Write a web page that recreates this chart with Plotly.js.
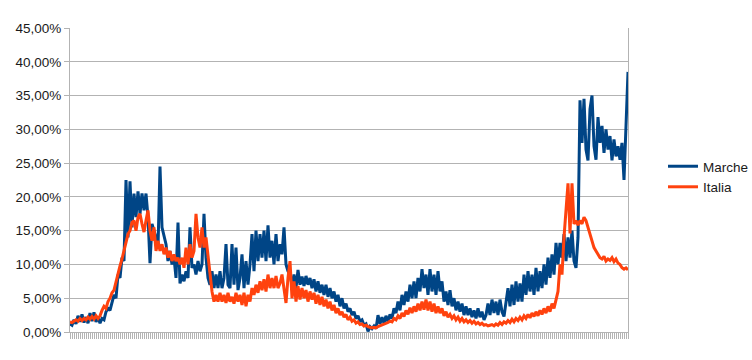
<!DOCTYPE html>
<html>
<head>
<meta charset="utf-8">
<script src="https://cdn.plot.ly/plotly-3.0.1.min.js"></script>
<style>html,body{margin:0;padding:0;background:#fff;}#chart{width:752px;height:360px;}</style>
</head>
<body>
<div id="chart"></div>
<script>
// Daily positivity rate (%)
var marche = [
1.2,1.0,1.8,1.2,2.4,1.5,2.6,1.4,2.2,1.3,
2.8,1.6,2.9,1.5,2.2,1.3,2.0,1.8,3.0,3.5,
3.2,4.5,5.5,5.0,8.5,8.0,11.0,10.5,22.5,14.0,
22.3,15.5,20.5,17.0,20.8,17.5,20.5,18.0,20.5,17.0,
10.2,16.0,15.0,14.0,12.5,24.5,15.5,14.0,13.0,10.5,
12.0,10.0,11.0,8.0,16.2,7.2,8.5,7.5,9.0,8.0,
15.5,9.5,10.0,8.5,10.5,9.0,10.0,17.5,11.0,8.0,
7.0,9.0,6.5,8.5,6.5,9.0,6.5,8.0,13.0,7.0,
6.5,13.0,7.0,12.5,6.2,8.0,11.5,6.5,10.5,7.0,
10.0,14.5,9.0,15.0,10.5,14.5,11.0,15.0,10.5,15.8,
11.0,13.5,10.0,14.5,10.5,13.0,11.5,15.5,10.0,9.0,
8.5,7.0,8.5,6.5,9.2,7.0,8.2,6.8,8.3,7.0,
8.0,6.5,7.8,6.0,7.5,5.8,7.0,5.5,7.0,5.2,
6.5,5.0,6.0,4.5,5.5,3.8,5.0,3.5,4.2,3.0,
3.5,2.5,3.0,2.0,2.4,1.6,1.8,1.0,1.2,0.1,
0.8,0.5,0.9,0.5,2.5,1.2,2.2,1.3,2.4,1.5,
2.6,2.0,3.5,2.8,4.5,3.2,5.5,4.0,6.0,4.5,
7.0,5.0,7.5,5.0,8.0,6.0,9.3,6.5,8.5,5.5,
9.3,6.0,8.5,5.5,9.0,6.0,7.5,4.5,6.0,4.0,
6.2,3.8,5.0,3.2,4.5,3.0,4.2,2.5,3.8,2.5,
3.5,2.2,3.2,2.0,3.5,2.2,3.0,1.8,2.5,4.2,
2.5,4.8,2.8,4.5,2.5,4.8,3.0,2.3,4.5,6.5,
3.8,7.0,4.0,7.5,4.5,7.2,4.5,8.5,5.5,9.0,
6.0,8.5,5.5,9.5,6.0,9.0,6.5,10.0,7.0,11.0,
8.0,11.5,8.5,13.2,10.0,13.2,11.0,14.5,10.5,14.0,
11.0,15.0,10.5,9.5,14.0,34.3,28.0,34.5,27.0,25.4,
33.0,35.0,27.5,25.5,31.8,28.0,30.5,26.5,30.0,27.0,
29.0,25.4,28.5,26.0,27.5,25.5,28.0,22.5,30.5,38.5
];
var italia = [
1.5,1.4,1.6,1.8,1.6,2.0,1.7,2.0,1.8,2.2,
1.9,2.3,1.9,2.4,2.0,2.4,3.2,3.8,3.5,4.5,
5.0,5.8,6.2,7.5,8.5,9.8,10.8,12.0,13.5,14.5,
15.0,16.2,16.5,15.0,17.0,17.5,16.0,14.8,16.5,18.0,
15.0,13.5,15.5,12.0,13.5,12.0,13.0,11.5,12.5,11.0,
12.0,10.5,11.5,10.5,11.0,10.0,11.0,9.5,12.5,10.0,
13.0,11.0,12.0,17.5,14.0,12.5,15.5,12.5,14.0,11.0,
8.0,6.0,4.5,5.5,4.5,5.8,4.5,5.5,4.3,5.8,
4.5,5.2,4.2,5.8,4.5,5.5,4.0,5.8,3.8,5.5,
4.5,6.5,5.5,7.0,5.8,7.5,6.2,7.8,6.0,8.5,
6.5,8.0,6.5,8.3,6.5,7.2,8.5,6.0,4.3,8.0,
10.5,5.0,7.5,4.5,6.8,4.8,6.5,5.0,6.2,4.5,
6.0,4.8,5.8,4.2,5.5,4.0,5.2,3.8,4.8,3.5,
4.5,3.2,4.0,2.8,3.5,2.5,3.0,2.2,2.6,1.8,
2.2,1.6,1.8,1.3,1.5,1.1,1.2,0.9,1.0,0.8,
0.7,0.6,0.7,0.6,0.8,0.9,1.0,1.2,1.3,1.4,
1.6,1.5,2.0,1.8,2.4,2.0,2.8,2.3,3.2,2.6,
3.6,2.8,3.8,3.0,4.2,3.2,4.5,3.3,4.8,3.2,
4.5,3.0,4.2,2.8,3.8,2.8,3.5,2.4,3.0,2.2,
2.6,2.0,2.4,1.8,2.2,1.6,2.0,1.5,1.8,1.4,
1.7,1.3,1.6,1.2,1.4,1.1,1.3,1.0,1.1,0.9,
1.0,1.1,0.9,1.2,1.0,1.4,1.1,1.5,1.3,1.7,
1.4,1.9,1.5,2.0,1.7,2.2,1.8,2.4,2.0,2.6,
2.1,2.8,2.3,3.0,2.4,3.2,2.6,3.5,2.8,3.8,
3.0,4.2,3.5,5.0,6.0,10.0,8.5,14.0,18.0,22.0,
14.6,22.0,16.0,16.5,15.8,16.5,16.0,17.0,16.5,15.5,
14.5,13.8,12.5,12.0,11.5,11.0,10.8,11.2,10.5,10.8,
10.6,11.0,10.4,10.8,10.2,10.0,9.5,9.3,9.5,9.2
];
var seriesNames = ["Marche", "Italia"];
var yTicks = [0,5,10,15,20,25,30,35,40,45];

var idx = marche.map(function(_, i){ return i; });

var traces = [
  {x: idx, y: marche, name: seriesNames[0], type: 'scatter', mode: 'lines',
   line: {color: '#004586', width: 3}},
  {x: idx, y: italia, name: seriesNames[1], type: 'scatter', mode: 'lines',
   line: {color: '#ff420e', width: 3}}
];

var layout = {
  width: 752, height: 360,
  margin: {l: 70, r: 124, t: 28, b: 28, autoexpand: false},
  paper_bgcolor: '#ffffff', plot_bgcolor: '#ffffff',
  separators: ',.',
  font: {family: 'Liberation Sans, Arial, sans-serif', size: 13.5, color: '#1a1a1a'},
  showlegend: true,
  legend: {x: 1.0627, xanchor: 'left', y: 0.51, yanchor: 'middle',
    font: {size: 13.5, color: '#1a1a1a'}, tracegroupgap: 0, itemwidth: 30},
  xaxis: {
    range: [0, marche.length - 1], showgrid: false, zeroline: false,
    showticklabels: false, ticks: 'outside', ticklen: 6, tickcolor: '#b3b3b3',
    tickwidth: 1, tickmode: 'linear', tick0: 0, dtick: 1,
    showline: true, linecolor: '#b3b3b3', linewidth: 1, fixedrange: true
  },
  yaxis: {
    range: [0, 45], tickmode: 'array', tickvals: yTicks,
    ticktext: yTicks.map(function(v){ return v.toFixed(2).replace('.', ',') + '%'; }),
    showgrid: true, gridcolor: '#b3b3b3', gridwidth: 1, zeroline: false,
    ticks: 'outside', ticklen: 5, tickcolor: '#b3b3b3',
    showline: true, mirror: true, linecolor: '#b3b3b3', linewidth: 1,
    fixedrange: true
  }
};

Plotly.newPlot('chart', traces, layout, {displayModeBar: false, staticPlot: true});
</script>
</body>
</html>
